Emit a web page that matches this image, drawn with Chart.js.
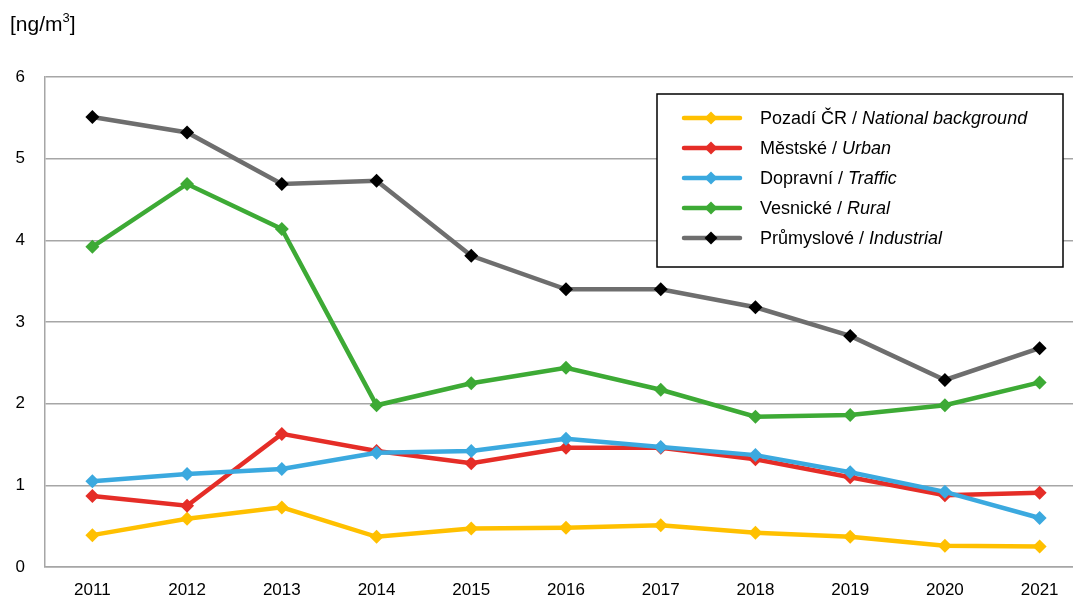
<!DOCTYPE html>
<html>
<head>
<meta charset="utf-8">
<script src="https://cdn.jsdelivr.net/npm/chart.js@4/dist/chart.umd.min.js"></script>
<style>
  body { margin: 0; background: #fff; }
  #wrap { width: 1073px; height: 600px; overflow: hidden; }
</style>
</head>
<body>
<!-- canvas is wider than the page: the plot area of the original runs past its right edge -->
<div id="wrap"><canvas id="pahChart" width="1094" height="600"></canvas></div>
<script>
const years = ['2011', '2012', '2013', '2014', '2015', '2016', '2017', '2018', '2019', '2020', '2021'];
const namesCz = ['Pozadí ČR', 'Městské', 'Dopravní', 'Vesnické', 'Průmyslové'];
const namesEn = ['National background', 'Urban', 'Traffic', 'Rural', 'Industrial'];

const background = [0.39, 0.59, 0.73, 0.37, 0.47, 0.48, 0.51, 0.42, 0.37, 0.26, 0.25];
const urban      = [0.87, 0.75, 1.63, 1.42, 1.27, 1.46, 1.46, 1.32, 1.10, 0.88, 0.91];
const traffic    = [1.05, 1.14, 1.20, 1.40, 1.42, 1.57, 1.47, 1.37, 1.16, 0.92, 0.60];
const rural      = [3.92, 4.69, 4.14, 1.98, 2.25, 2.44, 2.17, 1.84, 1.86, 1.98, 2.26];
const industrial = [5.51, 5.32, 4.69, 4.73, 3.81, 3.40, 3.40, 3.18, 2.83, 2.29, 2.68];

const yTicks = [0, 1, 2, 3, 4, 5, 6];

const lineColors   = ['#FFC000', '#E52D27', '#3BA9DF', '#3DAA35', '#6E6E6E'];
const markerColors = ['#FFC000', '#E52D27', '#3BA9DF', '#3DAA35', '#000000'];
const seriesData = [background, urban, traffic, rural, industrial];

const font = '"Liberation Sans", Arial, sans-serif';

// legend box and unit label drawn by hand, the built-in legend can't do mixed italic
const boxLegend = {
    id: 'boxLegend',
    afterDraw(chart) {
        const ctx = chart.ctx;
        ctx.save();
        ctx.fillStyle = '#fff';
        ctx.fillRect(657, 94, 406, 173);
        ctx.strokeStyle = '#000';
        ctx.lineWidth = 1.5;
        ctx.strokeRect(657, 94, 406, 173);

        chart.data.datasets.forEach(function (ds, i) {
            const y = 118 + i * 30;
            ctx.strokeStyle = ds.borderColor;
            ctx.lineWidth = 4.5;
            ctx.lineCap = 'round';
            ctx.beginPath();
            ctx.moveTo(684, y);
            ctx.lineTo(740, y);
            ctx.stroke();
            ctx.fillStyle = ds.pointBackgroundColor;
            ctx.beginPath();
            ctx.moveTo(711, y - 6.5);
            ctx.lineTo(717.5, y);
            ctx.lineTo(711, y + 6.5);
            ctx.lineTo(704.5, y);
            ctx.closePath();
            ctx.fill();

            ctx.fillStyle = '#000';
            ctx.textBaseline = 'middle';
            ctx.textAlign = 'left';
            ctx.font = '18px ' + font;
            const first = namesCz[i] + ' / ';
            ctx.fillText(first, 760, y + 1);
            const w = ctx.measureText(first).width;
            ctx.font = 'italic 18px ' + font;
            ctx.fillText(namesEn[i], 760 + w, y + 1);
        });

        ctx.fillStyle = '#000';
        ctx.textAlign = 'left';
        ctx.textBaseline = 'alphabetic';
        ctx.font = '21px ' + font;
        ctx.fillText('[ng/m', 10, 31);
        const mw = ctx.measureText('[ng/m').width;
        ctx.font = '13px ' + font;
        ctx.fillText('3', 10 + mw, 22);
        const sw = ctx.measureText('3').width;
        ctx.font = '21px ' + font;
        ctx.fillText(']', 10 + mw + sw, 31);
        ctx.restore();
    }
};

const ctxPah = document.getElementById('pahChart').getContext('2d');
new Chart(ctxPah, {
    type: 'line',
    data: {
        labels: years,
        datasets: seriesData.map(function (vals, i) {
            return {
                label: namesCz[i] + ' / ' + namesEn[i],
                data: vals,
                borderColor: lineColors[i],
                backgroundColor: lineColors[i],
                pointBackgroundColor: markerColors[i],
                pointBorderColor: markerColors[i],
                pointStyle: 'rectRot',
                pointRadius: 7,
                pointBorderWidth: 0,
                borderWidth: 4.5,
                tension: 0,
                order: i === 4 ? 5 : 4 - i
            };
        })
    },
    options: {
        responsive: false,
        animation: false,
        layout: { padding: { top: 77, right: 0, left: 0, bottom: 0 } },
        plugins: {
            legend: { display: false },
            tooltip: { enabled: false }
        },
        scales: {
            x: {
                offset: true,
                grid: { display: false, drawTicks: false },
                border: { color: '#a6a6a6', width: 1.5 },
                ticks: { color: '#000', font: { family: font, size: 17 }, padding: 13, maxRotation: 0 },
                afterFit(scale) { scale.height = 33; scale.paddingLeft = 0; scale.paddingRight = 0; }
            },
            y: {
                min: 0,
                max: 6,
                afterBuildTicks(scale) { scale.ticks = yTicks.map(v => ({ value: v })); },
                grid: { color: '#a6a6a6', lineWidth: 1.5, drawTicks: false },
                border: { color: '#a6a6a6', width: 1.5 },
                ticks: { color: '#000', font: { family: font, size: 17 }, padding: 20 },
                afterFit(scale) { scale.width = 45; scale.paddingTop = 0; scale.paddingBottom = 0; }
            }
        }
    },
    plugins: [boxLegend]
});
</script>
</body>
</html>
